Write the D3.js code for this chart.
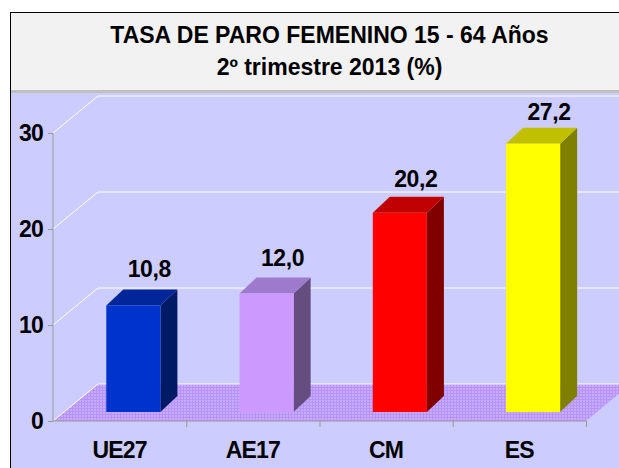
<!DOCTYPE html>
<html>
<head>
<meta charset="utf-8">
<script src="https://cdnjs.cloudflare.com/ajax/libs/d3/7.8.5/d3.min.js"></script>
<style>
  html, body { margin: 0; padding: 0; background: #ffffff; }
  svg text { font-family: "Liberation Sans", Arial, Helvetica, sans-serif; font-weight: bold; }
</style>
</head>
<body>
<svg id="chart" width="619" height="468"></svg>
<script>
// chart data
const categories = ['UE27', 'AE17', 'CM', 'ES'];
const values = [10.8, 12.0, 20.2, 27.2];
const yTicks = [0, 10, 20, 30];
const titleLines = ['TASA DE PARO FEMENINO 15 - 64 Años', '2º trimestre 2013 (%)'];

// bar colours: front, top, side
const frontColors = ['#0033cc', '#cc99ff', '#ff0000', '#ffff00'];
const topColors = ['#002699', '#9e7acc', '#c00000', '#c0c000'];
const sideColors = ['#001a66', '#664d80', '#800000', '#808000'];

const WALL_DX = 45, WALL_DY = -37;   // depth of the 3d box
const BAR_DX = 17, BAR_DY = -16;     // depth of each bar

const svg = d3.select('#chart');

// pattern for the floor
const defs = svg.append('defs');
const pat = defs.append('pattern')
  .attr('id', 'floorPat')
  .attr('width', 3).attr('height', 3)
  .attr('patternUnits', 'userSpaceOnUse');
pat.append('rect').attr('width', 3).attr('height', 3).attr('fill', '#c9abff');
pat.append('rect').attr('width', 3).attr('height', 1).attr('fill', '#b693fa');
pat.append('rect').attr('width', 1).attr('height', 3).attr('fill', '#b693fa');

// frame, title band and plot background
svg.append('rect').attr('x', 10.5).attr('y', 12.5).attr('width', 660).attr('height', 470)
  .attr('fill', '#ccccff').attr('stroke', '#000').attr('stroke-width', 1);
svg.append('rect').attr('x', 11).attr('y', 13).attr('width', 660).attr('height', 77).attr('fill', '#f2f2f2');
svg.append('rect').attr('x', 11).attr('y', 90).attr('width', 660).attr('height', 3).attr('fill', '#c0c0c0');

svg.selectAll('text.title')
  .data(titleLines)
  .enter()
  .append('text')
  .attr('class', 'title')
  .attr('x', 329.5)
  .attr('y', (d, i) => 43 + i * 32)
  .attr('text-anchor', 'middle')
  .style('font-size', '23px')
  .attr('fill', '#000')
  .text(d => d);

// scales
const x = d3.scaleBand().domain(categories).range([53, 586]).padding(0);
const y = d3.scaleLinear().domain([0, 30]).range([421, 133]);
const yBar = d3.scaleLinear().domain([0, 30]).range([412, 116]);
const xEdge = d3.scaleLinear().domain([0, categories.length]).range([53, 586]);

// floor
const x0 = x.range()[0], x1 = x.range()[1];
svg.append('path')
  .attr('d', `M${x0},${y(0)} L${x1},${y(0)} L${x1 + WALL_DX},${y(0) + WALL_DY} L${x0 + WALL_DX},${y(0) + WALL_DY} Z`)
  .attr('fill', 'url(#floorPat)');

// back wall grid lines
const grid = svg.append('g');
grid.selectAll('path')
  .data(yTicks)
  .enter()
  .append('path')
  .attr('d', d => `M${x0},${y(d)} L${x0 + WALL_DX},${y(d) + WALL_DY} L${x1 + WALL_DX + 40},${y(d) + WALL_DY}`)
  .attr('fill', 'none')
  .attr('stroke', '#ffffff')
  .attr('stroke-width', 1);

// axes
const yAxis = svg.append('g')
  .attr('transform', `translate(${x0},0)`)
  .call(d3.axisLeft(y).tickValues(yTicks).tickSize(5).tickPadding(5).tickFormat(d3.format('d')));
yAxis.select('.domain').attr('stroke', '#999999').attr('d', `M0,${y(30)}V${y(0)}`);
yAxis.selectAll('.tick line').attr('stroke', '#999999');
yAxis.selectAll('.tick text').style('font-size', '23px').style('letter-spacing', '-0.8px').attr('fill', '#000');

const xTicksAxis = svg.append('g')
  .attr('transform', `translate(0,${y(0)})`)
  .call(d3.axisBottom(xEdge).ticks(categories.length).tickSize(6).tickFormat(''));
xTicksAxis.select('.domain').attr('stroke', '#999999').attr('d', `M${x0},0H${x1}`);
xTicksAxis.selectAll('.tick line').attr('stroke', '#999999');
xTicksAxis.selectAll('.tick').filter(d => d === 0).remove();

const xAxis = svg.append('g')
  .attr('transform', `translate(0,${y(0)})`)
  .call(d3.axisBottom(x).tickSize(0).tickPadding(21));
xAxis.select('.domain').remove();
xAxis.selectAll('.tick text').style('font-size', '23px').style('letter-spacing', '-0.8px').attr('fill', '#000');

// bars
const bw = x.bandwidth() * 0.406;
const bars = svg.append('g')
  .selectAll('g')
  .data(categories)
  .enter()
  .append('g');

const bx = (c) => x(c) + x.bandwidth() * 0.4;

bars.append('path') // side
  .attr('d', (c, i) => {
    const l = bx(c) + bw, t = yBar(values[i]), b = yBar(0);
    return `M${l},${b} L${l},${t} L${l + BAR_DX},${t + BAR_DY} L${l + BAR_DX},${b + BAR_DY} Z`;
  })
  .attr('fill', (c, i) => sideColors[i]);

bars.append('path') // top
  .attr('d', (c, i) => {
    const l = bx(c), t = yBar(values[i]);
    return `M${l},${t} L${l + bw},${t} L${l + bw + BAR_DX},${t + BAR_DY} L${l + BAR_DX},${t + BAR_DY} Z`;
  })
  .attr('fill', (c, i) => topColors[i]);

bars.append('rect') // front
  .attr('x', c => bx(c))
  .attr('y', (c, i) => yBar(values[i]))
  .attr('width', bw)
  .attr('height', (c, i) => yBar(0) - yBar(values[i]))
  .attr('fill', (c, i) => frontColors[i]);

bars.append('text')
  .attr('x', c => bx(c) + 43)
  .attr('y', (c, i) => y(values[i]) - 40)
  .attr('text-anchor', 'middle')
  .style('font-size', '23px')
  .style('letter-spacing', '-0.4px')
  .attr('fill', '#000')
  .text((c, i) => values[i].toFixed(1).replace('.', ','));
</script>
</body>
</html>
